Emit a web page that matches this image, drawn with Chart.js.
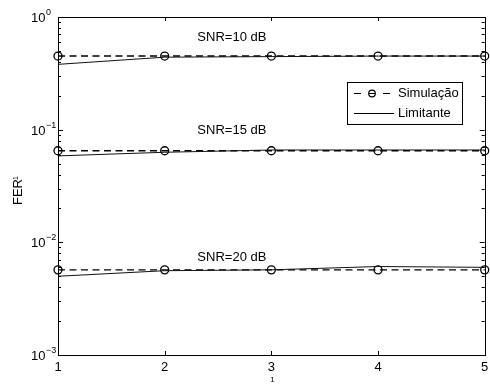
<!DOCTYPE html>
<html>
<head>
<meta charset="utf-8">
<script src="https://cdn.jsdelivr.net/npm/chart.js@4/dist/chart.umd.min.js"></script>
<style>
  html, body { margin: 0; padding: 0; background: #fff; }
  canvas { display: block; }
</style>
</head>
<body>
<canvas id="fer-chart" width="490" height="385"></canvas>
<script>
// Number of iterations on the x axis
const xValues = [1, 2, 3, 4, 5];

// Simulated FER per SNR
const sim10 = [0.45, 0.45, 0.45, 0.45, 0.45];
const sim15 = [0.065, 0.065, 0.065, 0.065, 0.065];
const sim20 = [0.0057, 0.0057, 0.0057, 0.0057, 0.0057];

// Analytical bound per SNR
const lim10 = [0.38, 0.44, 0.445, 0.45, 0.45];
const lim15 = [0.0585, 0.063, 0.066, 0.066, 0.066];
const lim20 = [0.0050, 0.0056, 0.0057, 0.0061, 0.0060];

// Curve annotations
const snrLabels = ['SNR=10 dB', 'SNR=15 dB', 'SNR=20 dB'];
const snrLabelX = [2.63, 2.63, 2.63];
const snrLabelY = [0.655, 0.098, 0.0073];

// Axis ticks
const xTicks = [1, 2, 3, 4, 5];
const yDecades = [-3, -2, -1, 0];

const legendItems = ['Simulação', 'Limitante'];

const FONT = '"Liberation Sans", Arial, Helvetica, sans-serif';

function toPoints(ys) {
    return xValues.map((x, i) => ({ x: x, y: ys[i] }));
}

function simSet(ys) {
    return {
        label: legendItems[0],
        data: toPoints(ys),
        borderColor: '#000',
        borderWidth: 1.4,
        borderDash: [7, 4.5],
        pointStyle: 'circle',
        pointRadius: 4,
        pointBorderWidth: 1.3,
        pointBorderColor: '#000',
        pointBackgroundColor: 'rgba(255,255,255,0)',
        fill: false,
        tension: 0,
        clip: false
    };
}

function limSet(ys) {
    return {
        label: legendItems[1],
        data: toPoints(ys),
        borderColor: '#111',
        borderWidth: 1,
        pointRadius: 0,
        fill: false,
        tension: 0,
        clip: false
    };
}

// MATLAB-style frame: box, inward ticks, superscript labels, legend, text
const matlabFrame = {
    id: 'matlabFrame',
    afterDatasetsDraw(chart) {
        const ctx = chart.ctx;
        const area = chart.chartArea;
        const xs = chart.scales.x;
        const ys = chart.scales.y;
        ctx.save();

        // annotations
        ctx.fillStyle = '#000';
        ctx.font = '13px ' + FONT;
        ctx.textAlign = 'center';
        ctx.textBaseline = 'middle';
        snrLabels.forEach((t, i) => {
            ctx.fillText(t, xs.getPixelForValue(snrLabelX[i]), ys.getPixelForValue(snrLabelY[i]));
        });

        // box
        ctx.strokeStyle = '#000';
        ctx.lineWidth = 1;
        ctx.strokeRect(Math.round(area.left) + 0.5, Math.round(area.top) + 0.5,
            Math.round(area.right - area.left), Math.round(area.bottom - area.top));

        // x ticks
        ctx.beginPath();
        xTicks.forEach(v => {
            const px = Math.round(xs.getPixelForValue(v)) + 0.5;
            ctx.moveTo(px, area.bottom); ctx.lineTo(px, area.bottom - 4);
            ctx.moveTo(px, area.top); ctx.lineTo(px, area.top + 4);
        });
        // y ticks (major + minor)
        yDecades.forEach(d => {
            for (let m = 1; m <= 9; m++) {
                const v = m * Math.pow(10, d);
                if (v > ys.max * 1.0001) break;
                const py = Math.round(ys.getPixelForValue(v)) + 0.5;
                const len = m === 1 ? 5 : 3;
                ctx.moveTo(area.left, py); ctx.lineTo(area.left + len, py);
                ctx.moveTo(area.right, py); ctx.lineTo(area.right - len, py);
            }
        });
        ctx.stroke();

        ctx.font = '13px ' + FONT;
        ctx.textAlign = 'center';
        ctx.textBaseline = 'top';
        xTicks.forEach(v => {
            ctx.fillText(String(v), xs.getPixelForValue(v), area.bottom + 6);
        });

        yDecades.forEach(d => {
            const py = ys.getPixelForValue(Math.pow(10, d));
            ctx.font = '13px ' + FONT;
            ctx.textAlign = 'right';
            ctx.textBaseline = 'alphabetic';
            ctx.fillText('10', 45.5, py + 5);
            ctx.font = '9px ' + FONT;
            ctx.textAlign = 'left';
            ctx.fillText(d === 0 ? '0' : '\u2212' + Math.abs(d), 46, py - 2);
        });

        // axis titles
        ctx.save();
        ctx.translate(22, 192);
        ctx.rotate(-Math.PI / 2);
        ctx.font = '13px ' + FONT;
        ctx.textAlign = 'center';
        ctx.textBaseline = 'alphabetic';
        ctx.fillText('FER', 0, 0);
        ctx.font = '7px ' + FONT;
        ctx.textAlign = 'left';
        ctx.fillText('1', 12, -4);
        ctx.restore();

        ctx.font = '8px ' + FONT;
        ctx.textAlign = 'center';
        ctx.textBaseline = 'middle';
        ctx.fillText('1', (area.left + area.right) / 2 + 1, 380);

        // legend
        const lx = 347.5, ly = 82.5, lw = 115, lh = 42;
        ctx.fillStyle = '#fff';
        ctx.fillRect(lx, ly, lw, lh);
        ctx.strokeStyle = '#000';
        ctx.lineWidth = 1;
        ctx.strokeRect(lx, ly, lw, lh);

        const r1 = 93.5, r2 = 113.5;
        ctx.lineWidth = 1.2;
        ctx.beginPath();
        ctx.moveTo(354, r1); ctx.lineTo(361, r1);
        ctx.moveTo(383, r1); ctx.lineTo(390, r1);
        ctx.moveTo(369, r1); ctx.lineTo(375, r1);
        ctx.stroke();
        ctx.beginPath();
        ctx.arc(372, r1, 3.3, 0, Math.PI * 2);
        ctx.stroke();
        ctx.lineWidth = 1;
        ctx.beginPath();
        ctx.moveTo(354, r2); ctx.lineTo(394, r2);
        ctx.stroke();

        ctx.fillStyle = '#000';
        ctx.font = '13px ' + FONT;
        ctx.textAlign = 'left';
        ctx.textBaseline = 'middle';
        ctx.fillText(legendItems[0], 398, r1);
        ctx.fillText(legendItems[1], 398, r2);

        ctx.restore();
    }
};

const ctx = document.getElementById('fer-chart').getContext('2d');

new Chart(ctx, {
    type: 'line',
    data: {
        datasets: [
            limSet(lim10), limSet(lim15), limSet(lim20),
            simSet(sim10), simSet(sim15), simSet(sim20)
        ]
    },
    options: {
        responsive: false,
        animation: false,
        layout: {
            padding: { left: 58, right: 4, top: 17, bottom: 30 }
        },
        scales: {
            x: { type: 'linear', min: 1, max: 5, display: false },
            y: { type: 'logarithmic', min: 0.001, max: 1, display: false }
        },
        plugins: {
            legend: { display: false },
            tooltip: { enabled: false }
        }
    },
    plugins: [matlabFrame]
});
</script>
</body>
</html>
